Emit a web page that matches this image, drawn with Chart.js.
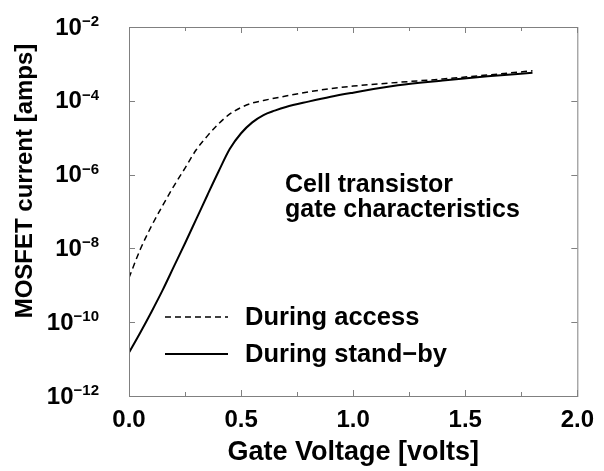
<!DOCTYPE html>
<html><head><meta charset="utf-8">
<script src="https://cdn.jsdelivr.net/npm/chart.js@4/dist/chart.umd.min.js"></script>
<style>html,body{margin:0;padding:0;background:#fff;}#wrap{width:604px;height:471px;}</style>
</head><body><div id="wrap"><canvas id="c" width="604" height="471"></canvas></div>
<script>
// ---- data ----
const accessVolts = [0,0.05,0.1,0.15,0.2,0.25,0.3,0.35,0.4,0.45,0.5,0.55,0.6,0.7,0.8,0.9,1.0,1.2,1.4,1.6,1.8];
const accessAmps  = [1.6e-9,9.3e-9,4.0e-8,1.45e-7,4.9e-7,1.5e-6,4.7e-6,1.12e-5,2.4e-5,4.4e-5,6.6e-5,8.7e-5,1.02e-4,1.35e-4,1.74e-4,2.14e-4,2.5e-4,3.16e-4,3.9e-4,5.0e-4,6.5e-4];
const standbyVolts = [0,0.05,0.1,0.15,0.2,0.25,0.3,0.35,0.4,0.45,0.5,0.55,0.6,0.65,0.7,0.8,0.9,1.0,1.2,1.4,1.6,1.8];
const standbyAmps  = [1.5e-11,5.2e-11,1.9e-10,7.4e-10,3.2e-9,1.38e-8,6.2e-8,2.8e-7,1.23e-6,5.0e-6,1.32e-5,2.6e-5,4.1e-5,5.4e-5,6.8e-5,9.5e-5,1.29e-4,1.66e-4,2.63e-4,3.55e-4,4.6e-4,5.75e-4];
const seriesNames = ['During access','During stand\u2212by'];
const xTickValues = [0,0.5,1.0,1.5,2.0];
const xTickLabels = ['0.0','0.5','1.0','1.5','2.0'];
const xMinorTicks = [0.25,0.75,1.25,1.75];
const yTickValues = [1e-12,1e-10,1e-8,1e-6,1e-4,1e-2];
const yTickExponents = ['\u221212','\u221210','\u22128','\u22126','\u22124','\u22122'];
const annotationLines = ['Cell transistor','gate characteristics'];

const FONT = "'Liberation Sans', Arial, Helvetica, sans-serif";

const framePlugin = {
  id: 'frame',
  afterDatasetsDraw(chart) {
    const {ctx, chartArea: a, scales: {x, y}} = chart;
    ctx.save();
    ctx.strokeStyle = '#808080';
    ctx.lineWidth = 1;
    ctx.strokeRect(a.left + 0.5, a.top + 0.5, a.right - a.left, a.bottom - a.top);
    ctx.beginPath();
    xTickValues.forEach(v => {
      const px = Math.round(x.getPixelForValue(v)) + 0.5;
      ctx.moveTo(px, a.bottom); ctx.lineTo(px, a.bottom - 6);
      ctx.moveTo(px, a.top); ctx.lineTo(px, a.top + 6);
    });
    xMinorTicks.forEach(v => {
      const px = Math.round(x.getPixelForValue(v)) + 0.5;
      ctx.moveTo(px, a.bottom); ctx.lineTo(px, a.bottom - 4);
      ctx.moveTo(px, a.top); ctx.lineTo(px, a.top + 4);
    });
    yTickValues.forEach(v => {
      const py = Math.round(y.getPixelForValue(v)) + 0.5;
      ctx.moveTo(a.left, py); ctx.lineTo(a.left + 6, py);
      ctx.moveTo(a.right, py); ctx.lineTo(a.right - 6, py);
    });
    ctx.stroke();
    ctx.restore();
  }
};

const textPlugin = {
  id: 'texts',
  afterDraw(chart) {
    const {ctx, scales: {y}} = chart;
    ctx.save();
    ctx.fillStyle = '#000';
    // y tick labels 10^n
    yTickValues.forEach((v, i) => {
      const py = y.getPixelForValue(v);
      const right = 99;
      ctx.font = 'bold 15px ' + FONT;
      ctx.textAlign = 'right';
      ctx.textBaseline = 'alphabetic';
      const ew = ctx.measureText(yTickExponents[i]).width;
      ctx.fillText(yTickExponents[i], right, py - 1);
      ctx.font = 'bold 24px ' + FONT;
      ctx.textBaseline = 'middle';
      ctx.fillText('10', right - ew, py + 1);
    });
    // y title
    ctx.save();
    ctx.translate(32, 181);
    ctx.rotate(-Math.PI / 2);
    ctx.font = 'bold 24px ' + FONT;
    ctx.textAlign = 'center';
    ctx.textBaseline = 'alphabetic';
    ctx.fillText('MOSFET current [amps]', 0, 0);
    ctx.restore();
    // annotation
    ctx.font = 'bold 25px ' + FONT;
    ctx.textAlign = 'left';
    ctx.textBaseline = 'alphabetic';
    ctx.fillText(annotationLines[0], 285, 192);
    ctx.fillText(annotationLines[1], 285, 217);
    // legend
    const legendY = [317, 354];
    chart.data.datasets.forEach((ds, i) => {
      ctx.save();
      ctx.strokeStyle = ds.borderColor;
      ctx.lineWidth = ds.borderWidth;
      ctx.setLineDash(ds.borderDash || []);
      ctx.beginPath();
      ctx.moveTo(165, legendY[i]); ctx.lineTo(228, legendY[i]);
      ctx.stroke();
      ctx.restore();
      ctx.font = 'bold 25.5px ' + FONT;
      ctx.textBaseline = 'alphabetic';
      ctx.fillText(ds.label, 245, legendY[i] + 8);
    });
    ctx.restore();
  }
};

new Chart(document.getElementById('c'), {
  type: 'line',
  data: {
    datasets: [
      { label: seriesNames[0], data: accessVolts.map((v, i) => ({x: v, y: accessAmps[i]})),
        borderColor: '#000', borderWidth: 1.5, borderDash: [6, 4], pointRadius: 0,
        cubicInterpolationMode: 'monotone', fill: false },
      { label: seriesNames[1], data: standbyVolts.map((v, i) => ({x: v, y: standbyAmps[i]})),
        borderColor: '#000', borderWidth: 2, pointRadius: 0,
        cubicInterpolationMode: 'monotone', fill: false }
    ]
  },
  options: {
    responsive: false, animation: false, devicePixelRatio: 1,
    layout: {padding: {left: 0, top: 27, right: 22, bottom: 0}},
    plugins: {legend: {display: false}, tooltip: {enabled: false}},
    scales: {
      x: {
        type: 'linear', min: 0, max: 2,
        grid: {display: false, drawTicks: false}, border: {display: false},
        afterBuildTicks: s => { s.ticks = xTickValues.map(v => ({value: v})); },
        ticks: {callback: (v, i) => xTickLabels[i], color: '#000', padding: 10,
                maxRotation: 0, autoSkip: false,
                font: {family: FONT, size: 24, weight: 'bold'}},
        title: {display: true, text: 'Gate Voltage [volts]', color: '#000',
                font: {family: FONT, size: 27, weight: 'bold', lineHeight: 1.2},
                padding: {top: 0, bottom: 2}},
        afterFit: s => { s.height = 75; }
      },
      y: {
        type: 'logarithmic', min: 1e-12, max: 1e-2,
        grid: {display: false, drawTicks: false}, border: {display: false},
        afterBuildTicks: s => { s.ticks = yTickValues.map(v => ({value: v})); },
        ticks: {display: false},
        afterFit: s => { s.width = 129; }
      }
    }
  },
  plugins: [framePlugin, textPlugin]
});
</script></body></html>
